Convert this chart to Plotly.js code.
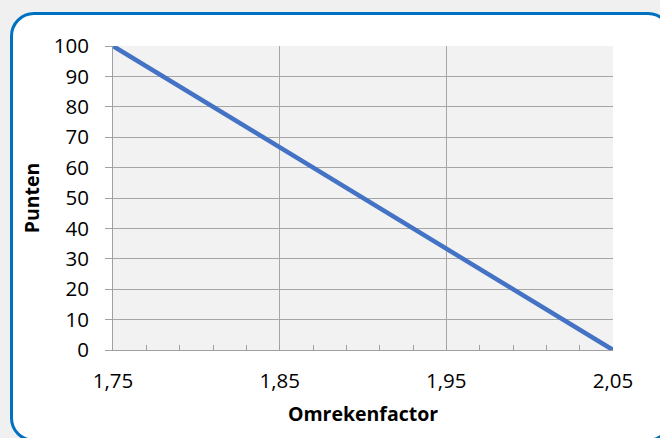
<!DOCTYPE html>
<html><head><meta charset="utf-8">
<script src="https://cdn.plot.ly/plotly-3.0.1.min.js"></script>
<style>
html,body{margin:0;padding:0;background:#f0f0f0;width:660px;height:438px;overflow:hidden;}
#card{position:absolute;left:10px;top:12px;width:662px;height:430px;box-sizing:border-box;border:3.5px solid #0070C0;border-radius:24px;background:#fff;}
#chart{position:absolute;left:0;top:0;width:660px;height:438px;}
</style></head>
<body>
<div id="card"></div>
<div id="chart"></div>
<script>
var factor = [1.75, 2.05];
var punten = [100, 0];
var xTicks = [1.75, 1.85, 1.95, 2.05];
var yTicks = [0, 10, 20, 30, 40, 50, 60, 70, 80, 90, 100];

var font = "'Open Sans', 'Liberation Sans', sans-serif";
Plotly.newPlot('chart', [{
  x: factor, y: punten, type: 'scatter', mode: 'lines',
  line: {color: '#4472C4', width: 4.5}, hoverinfo: 'skip'
}], {
  width: 660, height: 438,
  margin: {l: 113, r: 47, t: 46, b: 88, pad: 0},
  paper_bgcolor: 'rgba(0,0,0,0)',
  plot_bgcolor: '#f2f2f2',
  separators: ',.',
  showlegend: false,
  font: {family: font, size: 20.5, color: '#000'},
  xaxis: {
    range: [1.75, 2.05], tickvals: xTicks, tickformat: '.2f',
    ticks: 'inside', ticklen: 5, tickcolor: '#a0a0a0', tickwidth: 1,
    minor: {dtick: 0.02, tick0: 1.75, ticks: 'inside', ticklen: 5, tickcolor: '#a0a0a0', showgrid: false},
    showgrid: true, gridcolor: '#a6a6a6', gridwidth: 1,
    showline: true, linecolor: '#a0a0a0', linewidth: 1,
    zeroline: false, ticklabelstandoff: 12,
    title: {text: 'Omrekenfactor', font: {family: font, size: 19.5, weight: 'bold'}, standoff: 14}
  },
  yaxis: {
    range: [0, 100], tickvals: yTicks,
    ticks: 'outside', ticklen: 7, tickcolor: '#a0a0a0', tickwidth: 1,
    showgrid: true, gridcolor: '#a6a6a6', gridwidth: 1,
    showline: true, linecolor: '#a0a0a0', linewidth: 1,
    zeroline: false, ticklabelstandoff: 12,
    title: {text: 'Punten', font: {family: font, size: 19.5, weight: 'bold'}, standoff: 8}
  }
}, {displayModeBar: false, staticPlot: true});
</script>
</body></html>
